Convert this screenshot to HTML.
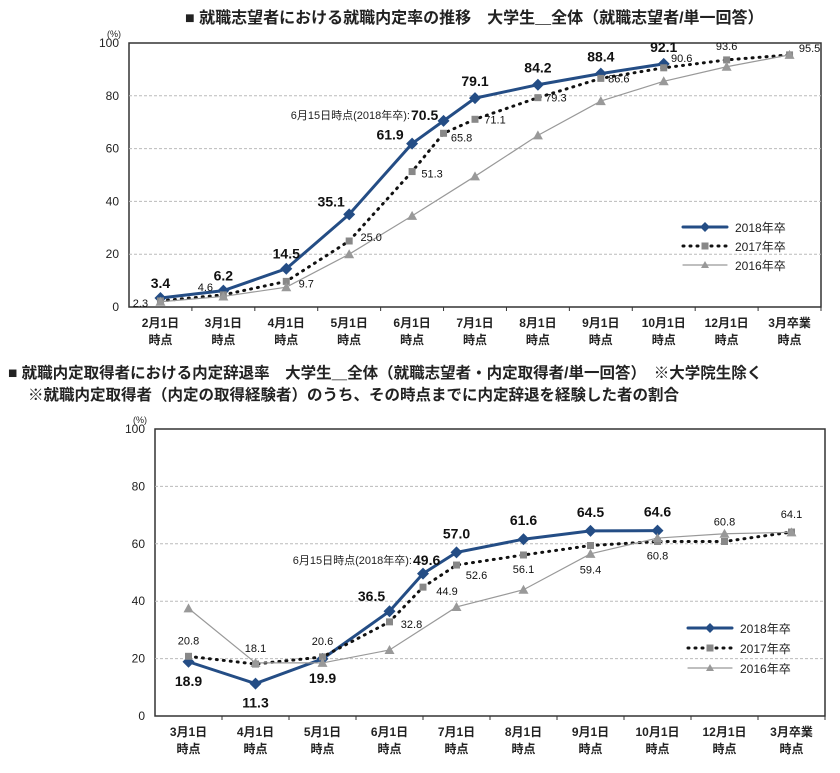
<!DOCTYPE html>
<html><head><meta charset="utf-8"><style>
html,body{margin:0;padding:0;background:#fff}
svg{display:block;font-family:"Liberation Sans","Noto Sans CJK JP",sans-serif}
</style></head><body>
<svg id="s" width="840" height="773" viewBox="0 0 840 773" xmlns="http://www.w3.org/2000/svg">
<text x="185" y="23" font-size="16" font-weight="bold" fill="#222">■ 就職志望者における就職内定率の推移　大学生＿全体（就職志望者/単一回答）</text>
<text x="8" y="378" font-size="15.5" font-weight="bold" fill="#222">■ 就職内定取得者における内定辞退率　大学生＿全体（就職志望者・内定取得者/単一回答）　※大学院生除く</text>
<text x="28" y="400" font-size="15.5" font-weight="bold" fill="#222">※就職内定取得者（内定の取得経験者）のうち、その時点までに内定辞退を経験した者の割合</text>
</svg>
<script>
// ---- Top chart data ----
const topCats = ["2月1日|時点","3月1日|時点","4月1日|時点","5月1日|時点","6月1日|時点","7月1日|時点","8月1日|時点","9月1日|時点","10月1日|時点","12月1日|時点","3月卒業|時点"];
const topX2018 = [0,1,2,3,4,4.5,5,6,7,8];
const top2018 = [3.4,6.2,14.5,35.1,61.9,70.5,79.1,84.2,88.4,92.1];
const topX2017 = [0,1,2,3,4,4.5,5,6,7,8,9,10];
const top2017 = [2.3,4.6,9.7,25.0,51.3,65.8,71.1,79.3,86.6,90.6,93.6,95.5];
const topX2016 = [0,1,2,3,4,5,6,7,8,9,10];
const top2016 = [2.0,4.0,7.5,20.0,34.5,49.5,65.0,78.0,85.5,91.0,95.5];
const topTicks = [0,20,40,60,80,100];
// ---- Bottom chart data ----
const botCats = ["3月1日|時点","4月1日|時点","5月1日|時点","6月1日|時点","7月1日|時点","8月1日|時点","9月1日|時点","10月1日|時点","12月1日|時点","3月卒業|時点"];
const botX2018 = [0,1,2,3,3.5,4,5,6,7];
const bot2018 = [18.9,11.3,19.9,36.5,49.6,57.0,61.6,64.5,64.6];
const botX2017 = [0,1,2,3,3.5,4,5,6,7,8,9];
const bot2017 = [20.8,18.1,20.6,32.8,44.9,52.6,56.1,59.4,60.8,60.8,64.1];
const botX2016 = [0,1,2,3,4,5,6,7,8,9];
const bot2016 = [37.5,18.5,18.5,23.0,38.0,44.0,56.5,62.0,63.5,64.0];
const botTicks = [0,20,40,60,80,100];

const NS="http://www.w3.org/2000/svg", svg=document.getElementById('s');
function mk(tag,at,txt){const e=document.createElementNS(NS,tag);for(const k in at)e.setAttribute(k,at[k]);if(txt!=null)e.textContent=txt;svg.appendChild(e);return e;}

function chart(cfg){
  const {L,R,T,B,cats,ticks,series,labels,name,legend,note}=cfg;
  const step=(R-L)/cats.length;
  const xs=i=>L+step*(i+0.5), ys=v=>B-(v/100)*(B-T);
  let e=mk('rect',{x:L,y:T,width:R-L,height:B-T,fill:'#fff',stroke:'#333','stroke-width':1.5});
  
  ticks.forEach(t=>{
    if(t>0&&t<100){e=mk('line',{x1:L,x2:R,y1:ys(t),y2:ys(t),stroke:'#bbb','stroke-dasharray':'3,2'});
    }
    e=mk('text',{x:L-10,y:ys(t)+4,'font-size':12,'text-anchor':'end',fill:'#222'},t);
    
  });
  e=mk('text',{x:L-22,y:T-6,'font-size':9,fill:'#222'},'(%)');
  
  cats.forEach((c,i)=>{
    const p=c.split('|');
    e=mk('line',{x1:L+step*(i+1),x2:L+step*(i+1),y1:B,y2:B+4,stroke:'#333'});
    
    e=mk('text',{x:xs(i),y:B+20,'font-size':12,'font-weight':'bold','text-anchor':'middle',fill:'#222'},p[0]);
    
    e=mk('text',{x:xs(i),y:B+37,'font-size':12,'font-weight':'bold','text-anchor':'middle',fill:'#222'},p[1]);
    
  });
  series.forEach(s=>{
    const pts=s.x.map((xi,i)=>xs(xi)+','+ys(s.v[i])).join(' ');
    e=mk('polyline',{points:pts,fill:'none',stroke:s.color,'stroke-width':s.w,'stroke-dasharray':s.dash||'none','stroke-linecap':'round'});
    
    s.x.forEach((xi,i)=>{
      const cx=xs(xi),cy=ys(s.v[i]);
      if(s.m==='d')e=mk('polygon',{points:`${cx},${cy-6} ${cx+6},${cy} ${cx},${cy+6} ${cx-6},${cy}`,fill:s.color});
      else if(s.m==='s')e=mk('rect',{x:cx-3.5,y:cy-3.5,width:7,height:7,fill:'#888'});
      else e=mk('polygon',{points:`${cx},${cy-5} ${cx+5},${cy+4} ${cx-5},${cy+4}`,fill:'#999'});
      
    });
  });
  labels.forEach(lb=>{
    const s=series[lb.s];
    lb.idx.forEach((i,k)=>{
      const o=lb.off[k];
      e=mk('text',{x:xs(s.x[i])+o[0],y:ys(s.v[i])+o[1],'font-size':lb.bold?14:11,'font-weight':lb.bold?'bold':'normal','text-anchor':'middle',fill:'#111'},s.v[i].toFixed(1));
      
    });
  });
  e=mk('text',{x:note.x,y:note.y,'font-size':11,'text-anchor':'end',fill:'#222'},'6月15日時点(2018年卒):');
  
  legend.ys.forEach((ly,k)=>{
    const s=series[k],lx=legend.x;
    e=mk('line',{x1:lx,x2:lx+44,y1:ly,y2:ly,stroke:s.color,'stroke-width':s.w,'stroke-dasharray':s.dash||'none','stroke-linecap':'round'});
    
    const cx=lx+22;
    if(s.m==='d')mk('polygon',{points:`${cx},${ly-5} ${cx+5},${ly} ${cx},${ly+5} ${cx-5},${ly}`,fill:s.color});
    else if(s.m==='s')mk('rect',{x:cx-3.5,y:ly-3.5,width:7,height:7,fill:'#888'});
    else mk('polygon',{points:`${cx},${ly-4} ${cx+4},${ly+3} ${cx-4},${ly+3}`,fill:'#999'});
    e=mk('text',{x:lx+52,y:ly+5,'font-size':12,fill:'#222'},s.id+'年卒');
    
  });
}
const S=(id,x,v,color,w,m,dash)=>({id,x,v,color,w,m,dash});
chart({name:'top',L:129,R:821,T:43,B:307,cats:topCats,ticks:topTicks,
 series:[S('2018',topX2018,top2018,'#244d85',3,'d'),S('2017',topX2017,top2017,'#111',3,'s','1,6'),S('2016',topX2016,top2016,'#999',1.2,'t')],
 labels:[{s:0,bold:1,idx:[0,1,2,3,4,6,7,8,9],off:[[0,-10],[0,-10],[0,-10],[-18,-8],[-22,-4],[0,-12],[0,-12],[0,-12],[0,-12]]},
         {s:1,idx:[0,1,2,3,4,5,6,7,8,9,10,11],off:[[-20,6],[-18,-4],[20,6],[22,0],[20,6],[18,8],[20,4],[18,4],[18,4],[18,-6],[0,-10],[20,-3]]}],
 note:{x:410,y:119},legend:{x:683,ys:[227,246,265]}});
{const e=mk('text',{x:411,y:120,'font-size':14,'font-weight':'bold',fill:'#111'},'70.5');}
chart({name:'bottom',L:155,R:825,T:429,B:716,cats:botCats,ticks:botTicks,
 series:[S('2018',botX2018,bot2018,'#244d85',3,'d'),S('2017',botX2017,bot2017,'#111',3,'s','1,6'),S('2016',botX2016,bot2016,'#999',1.2,'t')],
 labels:[{s:0,bold:1,idx:[0,1,2,3,5,6,7,8],off:[[0,24],[0,24],[0,24],[-18,-10],[0,-14],[0,-14],[0,-14],[0,-14]]},
         {s:1,idx:[0,1,2,3,4,5,6,7,8,9,10],off:[[0,-12],[0,-12],[0,-12],[22,6],[24,8],[20,14],[0,18],[0,28],[0,18],[0,-16],[0,-14]]}],
 note:{x:412,y:564},legend:{x:688,ys:[628,648,668]}});
{const e=mk('text',{x:413,y:565,'font-size':14,'font-weight':'bold',fill:'#111'},'49.6');}
</script>
</body></html>
